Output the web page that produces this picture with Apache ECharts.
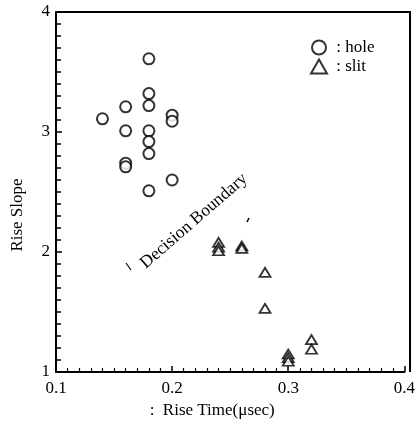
<!DOCTYPE html>
<html>
<head>
<meta charset="utf-8">
<script src="https://cdn.jsdelivr.net/npm/echarts@6/dist/echarts.min.js"></script>
<style>
html, body { margin: 0; padding: 0; background: #fff; }
#main { width: 418px; height: 424px; }
</style>
</head>
<body>
<div id="main"></div>
<script>
// hole (circles): [rise time, rise slope]
var holeX = [0.18, 0.18, 0.18, 0.16, 0.14, 0.20, 0.20, 0.16, 0.18, 0.18, 0.18, 0.16, 0.16, 0.20, 0.18];
var holeY = [3.61, 3.32, 3.22, 3.21, 3.11, 3.14, 3.09, 3.01, 3.01, 2.92, 2.82, 2.74, 2.71, 2.60, 2.51];
// slit (triangles)
var slitX = [0.24, 0.24, 0.24, 0.26, 0.26, 0.28, 0.28, 0.30, 0.30, 0.30, 0.32, 0.32];
var slitY = [2.08, 2.04, 2.01, 2.05, 2.03, 1.83, 1.53, 1.15, 1.12, 1.09, 1.27, 1.19];

var xTicks = [0.1, 0.2, 0.3, 0.4];
var yTicks = [1, 2, 3, 4];

function pairs(xs, ys) {
  return xs.map(function (x, i) { return [x, ys[i]]; });
}

var serif = '"Liberation Serif", "DejaVu Serif", serif';

var myChart = echarts.init(document.getElementById('main'));

var option = {
  animation: false,
  backgroundColor: '#fff',
  grid: { left: 56, top: 12, right: 8, bottom: 52 },
  legend: {
    orient: 'vertical',
    left: 305,
    top: 34,
    itemGap: 2,
    itemWidth: 16,
    itemHeight: 14,
    data: ['hole', 'slit'],
    formatter: function (name) { return ' : ' + name; },
    textStyle: { fontFamily: serif, fontSize: 17, color: '#000' }
  },
  xAxis: {
    type: 'value',
    min: 0.1,
    max: 0.4,
    interval: 0.1,
    name: ':  Rise Time(\u03bcsec)',
    nameLocation: 'middle',
    nameGap: 29,
    nameTextStyle: { fontFamily: serif, fontSize: 17, color: '#000', padding: [0, 36, 0, 0] },
    axisLine: { lineStyle: { color: '#000', width: 2 } },
    axisTick: { inside: true, length: 6, lineStyle: { color: '#000', width: 1.5 } },
    minorTick: { show: true, splitNumber: 10, length: 4, lineStyle: { color: '#000', width: 1.2 } },
    axisLabel: {
      margin: 8,
      fontFamily: serif, fontSize: 17, color: '#000',
      formatter: function (v) { return xTicks.indexOf(+v.toFixed(1)) >= 0 ? v.toFixed(1) : ''; }
    },
    splitLine: { show: false }
  },
  yAxis: {
    type: 'value',
    min: 1,
    max: 4,
    interval: 1,
    name: 'Rise Slope',
    nameLocation: 'middle',
    nameGap: 30,
    nameTextStyle: { fontFamily: serif, fontSize: 17, color: '#000', padding: [0, 46, 0, 0] },
    axisLine: { lineStyle: { color: '#000', width: 2 } },
    axisTick: { inside: true, length: 6, lineStyle: { color: '#000', width: 1.5 } },
    minorTick: { show: true, splitNumber: 10, length: 5, lineStyle: { color: '#000', width: 1.5 } },
    axisLabel: {
      margin: 6,
      fontFamily: serif, fontSize: 17, color: '#000',
      formatter: function (v) { return yTicks.indexOf(v) >= 0 ? String(v) : ''; }
    },
    splitLine: { show: false }
  },
  graphic: [
    {
      type: 'text',
      x: 194,
      y: 221,
      rotation: 41 * Math.PI / 180,
      style: {
        text: 'Decision Boundary',
        font: '17.5px ' + serif,
        fill: '#000',
        align: 'center',
        verticalAlign: 'middle'
      }
    },
    // remnants of the boundary line
    {
      type: 'line',
      shape: { x1: 126, y1: 263, x2: 131, y2: 270 },
      style: { stroke: '#000', lineWidth: 1.2 }
    },
    {
      type: 'line',
      shape: { x1: 247, y1: 222, x2: 249, y2: 218 },
      style: { stroke: '#000', lineWidth: 1.5 }
    },
    // frame: top and right edges
    {
      type: 'polyline',
      shape: { points: [[56, 12], [410, 12], [410, 372]] },
      style: { stroke: '#000', lineWidth: 2, fill: null }
    }
  ],
  series: [
    {
      name: 'hole',
      type: 'scatter',
      symbol: 'circle',
      symbolSize: 11,
      data: pairs(holeX, holeY),
      itemStyle: { color: '#fff', borderColor: '#000', borderWidth: 2 }
    },
    {
      name: 'slit',
      type: 'scatter',
      symbol: 'triangle',
      symbolSize: [11, 9],
      data: pairs(slitX, slitY),
      itemStyle: { color: '#fff', borderColor: '#000', borderWidth: 1.8 }
    }
  ]
};

myChart.setOption(option);
</script>
</body>
</html>
